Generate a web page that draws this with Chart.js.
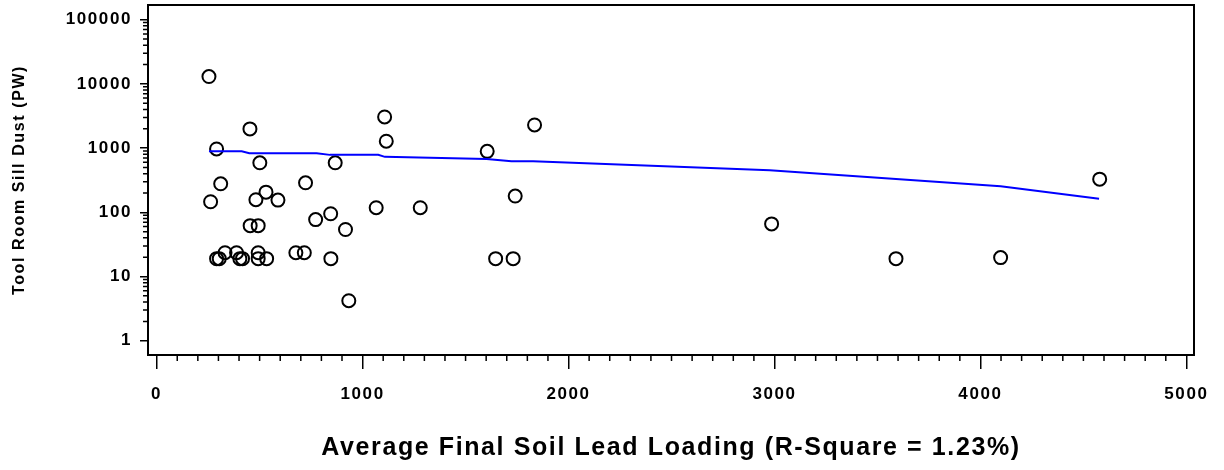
<!DOCTYPE html>
<html>
<head>
<meta charset="utf-8">
<title>Tool Room Sill Dust vs Average Final Soil Lead Loading</title>
<script src="https://cdn.jsdelivr.net/npm/chart.js@4.4.1/dist/chart.umd.min.js"></script>
<style>
  html, body { margin: 0; padding: 0; background: #fff; }
  canvas { display: block; }
</style>
</head>
<body>
<canvas id="chart" width="1224" height="470"></canvas>
<script>
// observed pairs: soil lead loading (x) and tool room sill dust (y)
const soilLead = [
  254, 453, 291, 501, 1107, 1115, 867, 1605, 1835,
  311, 723, 531, 1741, 262, 482, 589,
  772, 845, 917, 1066, 1280, 454, 493, 933,
  2986, 3590, 4098, 4579,
  291, 304, 404, 417, 493, 534, 846, 1646, 1731,
  332, 388, 493, 676, 717
];
const sillDust = [
  13000, 1990, 970, 590, 3050, 1280, 590, 890, 2290,
  278, 288, 206, 179, 146, 157, 155,
  77, 95, 54, 118, 118, 62, 62, 4.2,
  66, 19, 19.7, 328,
  19, 19, 19, 19, 19, 19, 19, 19, 19,
  23.5, 23.5, 23.5, 23.5, 23.5
];

// smoothed fit line
const fitX = [254, 413, 450, 777, 841, 1076, 1108, 1602, 1723, 1828, 2977, 4098, 4576];
const fitY = [892, 892, 830, 830, 784, 784, 730, 679, 624, 624, 452, 255, 163];

const xTicks = [0, 1000, 2000, 3000, 4000, 5000];
const yTicks = [1, 10, 100, 1000, 10000, 100000];
const xMinorStep = 100;

const FONT = "'Liberation Sans', Arial, Helvetica, sans-serif";

const points = soilLead.map((x, i) => ({ x, y: sillDust[i] }));
const fit = fitX.map((x, i) => ({ x, y: fitY[i] }));

// reference text is set a little looser than plain Arial
const looseText = {
  id: 'looseText',
  beforeDraw(chart) { chart.ctx.letterSpacing = '1.6px'; },
};

// box round the plot plus the short minor ticks on both axes
const frameAndMinorTicks = {
  id: 'frameAndMinorTicks',
  afterDraw(chart) {
    const { ctx, chartArea: a, scales: { x, y } } = chart;
    ctx.save();
    ctx.strokeStyle = '#000';
    ctx.lineWidth = 1.5;
    ctx.beginPath();
    for (let v = xMinorStep; v < xTicks[xTicks.length - 1]; v += xMinorStep) {
      if (xTicks.includes(v)) continue;
      const px = x.getPixelForValue(v);
      ctx.moveTo(px, a.bottom);
      ctx.lineTo(px, a.bottom + 6);
    }
    for (let d = 0; d < yTicks.length - 1; d++) {
      for (let k = 2; k <= 9; k++) {
        const py = y.getPixelForValue(k * yTicks[d]);
        ctx.moveTo(a.left - 5, py);
        ctx.lineTo(a.left, py);
      }
    }
    ctx.stroke();
    ctx.lineWidth = 2;
    ctx.strokeRect(a.left, a.top, a.right - a.left, a.bottom - a.top);
    ctx.restore();
  }
};

new Chart(document.getElementById('chart'), {
  type: 'scatter',
  data: {
    datasets: [
      {
        type: 'line',
        data: fit,
        borderColor: '#0000ff',
        borderWidth: 2,
        pointRadius: 0,
        tension: 0,
        fill: false,
      },
      {
        data: points,
        pointStyle: 'circle',
        pointRadius: 6.5,
        borderWidth: 2,
        borderColor: '#000',
        backgroundColor: 'rgba(0,0,0,0)',
      },
    ],
  },
  options: {
    responsive: false,
    animation: false,
    layout: { autoPadding: false, padding: { top: 5, right: 30, left: 0, bottom: 0 } },
    plugins: { legend: { display: false }, tooltip: { enabled: false } },
    scales: {
      x: {
        type: 'linear',
        min: -42,
        max: 5037,
        afterBuildTicks: (s) => { s.ticks = xTicks.map((v) => ({ value: v })); },
        afterFit: (s) => { s.height = 115; s.paddingLeft = 0; s.paddingRight = 0; },
        border: { display: false },
        grid: { drawOnChartArea: false, tickLength: 14, tickColor: '#000', lineWidth: 1.5 },
        ticks: {
          color: '#000',
          padding: 15,
          maxRotation: 0,
          callback: (v) => String(v),
          font: { family: FONT, size: 17, weight: 'bold' },
        },
        title: {
          display: true,
          text: 'Average Final Soil Lead Loading (R-Square = 1.23%)',
          color: '#000',
          padding: { top: 0, bottom: 7 },
          font: { family: FONT, size: 25, weight: 'bold' },
        },
      },
      y: {
        type: 'logarithmic',
        min: 0.628,
        max: 169000,
        afterBuildTicks: (s) => { s.ticks = yTicks.map((v) => ({ value: v })); },
        afterFit: (s) => { s.width = 148; s.paddingTop = 0; s.paddingBottom = 0; },
        border: { display: false },
        grid: { drawOnChartArea: false, tickLength: 8, tickColor: '#000', lineWidth: 1.5 },
        ticks: {
          color: '#000',
          padding: 8,
          callback: (v) => String(v),
          font: { family: FONT, size: 17, weight: 'bold' },
        },
        title: {
          display: true,
          text: 'Tool Room Sill Dust (PW)',
          color: '#000',
          padding: { top: 10, bottom: 0 },
          font: { family: FONT, size: 16, weight: 'bold' },
        },
      },
    },
  },
  plugins: [looseText, frameAndMinorTicks],
});
</script>
</body>
</html>
